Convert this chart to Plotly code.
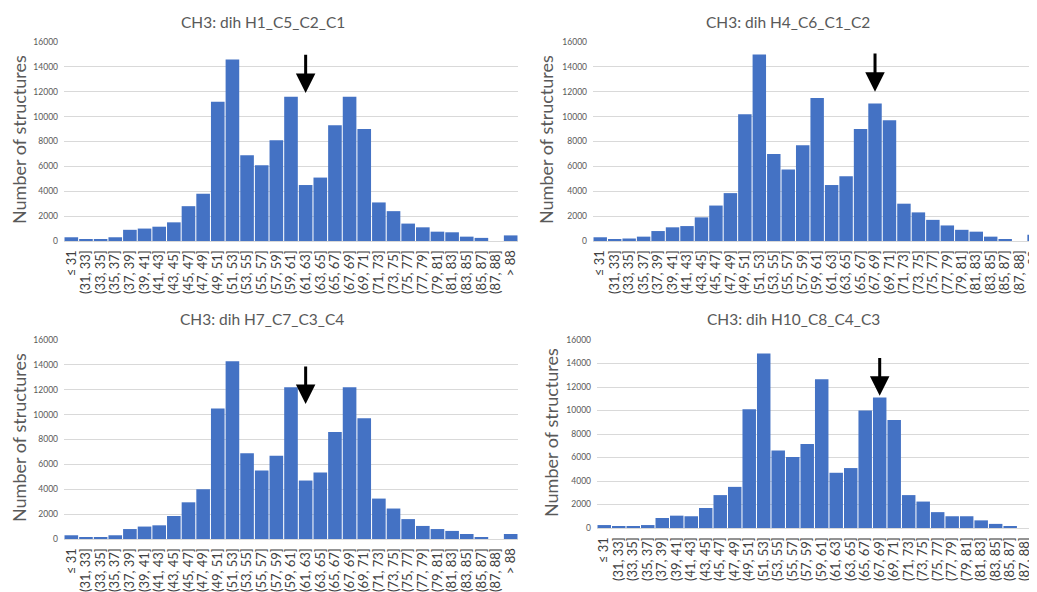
import plotly.graph_objects as go

categories = ["≤ 31", "(31, 33]", "(33, 35]", "(35, 37]", "(37, 39]", "(39, 41]", "(41, 43]",
              "(43, 45]", "(45, 47]", "(47, 49]", "(49, 51]", "(51, 53]", "(53, 55]", "(55, 57]",
              "(57, 59]", "(59, 61]", "(61, 63]", "(63, 65]", "(65, 67]", "(67, 69]", "(69, 71]",
              "(71, 73]", "(73, 75]", "(75, 77]", "(77, 79]", "(79, 81]", "(81, 83]", "(83, 85]",
              "(85, 87]", "(87, 88]", "> 88"]

titles = ["CH3: dih H1_C5_C2_C1", "CH3: dih H4_C6_C1_C2",
          "CH3: dih H7_C7_C3_C4", "CH3: dih H10_C8_C4_C3"]

h1_c5_c2_c1 = [300, 100, 100, 300, 900, 1000, 1150, 1500, 2800, 3800, 11200, 14600, 6900, 6100,
               8100, 11600, 4500, 5100, 9300, 11600, 9000, 3100, 2400, 1400, 1100, 750, 700, 350,
               250, 0, 450]
h4_c6_c1_c2 = [300, 150, 200, 350, 800, 1100, 1200, 1900, 2850, 3850, 10200, 15000, 7000, 5750,
               7700, 11500, 4500, 5200, 9000, 11050, 9700, 3000, 2300, 1700, 1250, 900, 750, 350,
               150, 0, 500]
h7_c7_c3_c4 = [300, 100, 150, 300, 800, 1000, 1100, 1850, 2950, 4000, 10500, 14300, 6900, 5500,
               6700, 12200, 4700, 5350, 8600, 12200, 9700, 3250, 2450, 1600, 1050, 800, 650, 400,
               150, 0, 400]
h10_c8_c4_c3 = [250, 100, 100, 250, 850, 1050, 1000, 1700, 2800, 3500, 10100, 14850, 6600, 6050,
                7150, 12650, 4700, 5100, 10000, 11100, 9200, 2800, 2250, 1350, 1000, 1000, 650, 350,
                150, 0, 350]

series = [h1_c5_c2_c1, h4_c6_c1_c2, h7_c7_c3_c4, h10_c8_c4_c3]
arrow_cat = ["(61, 63]", "(67, 69]", "(61, 63]", "(67, 69]"]
arrow_top = [15100, 15200, 14000, 14600]
arrow_tip = [11900, 12000, 10850, 11250]

# page has an 8px body margin; figure fills the rest of the 1037x592 window
OFF = 8
W, H = 1037 - OFF, 592 - OFF
BLUE = "#4472C4"
GRAY = "#595959"
FONT = "Lato"


def fx(px):
    return (px - OFF) / W


def fy(py):
    return 1 - (py - OFF) / H


# page-pixel layout of each panel: (left, right, top, bottom), x range end
panels = [
    (64, 518, 42, 241, 30.5),
    (593, 1037, 42, 241, 30.2),
    (64, 518, 340, 539, 30.5),
    (597, 1037, 340, 528, 29.85),
]
title_pos = [(263, 22), (788, 22), (262, 319), (793, 319)]
ytitle_pos = [(19, 140), (546, 140), (19, 438), (551, 433)]

fig = go.Figure()
annotations = []
for i, (vals, (l, r, t, b, xend)) in enumerate(zip(series, panels)):
    n = "" if i == 0 else str(i + 1)
    fig.add_trace(go.Bar(x=categories, y=vals, marker=dict(color=BLUE, line=dict(width=0)),
                         xaxis="x" + n, yaxis="y" + n, showlegend=False))
    fig.layout["xaxis" + n] = dict(
        domain=[fx(l), fx(r)], anchor="y" + n, type="category", range=[-0.5, xend],
        tickmode="array", tickvals=categories, ticktext=categories,
        tickangle=-90, tickfont=dict(family=FONT, size=13, color="#404040"),
        showgrid=False, showline=True, linecolor="#d9d9d9", linewidth=1, ticks="",
        ticklabelstandoff=3, automargin=False, fixedrange=True)
    fig.layout["yaxis" + n] = dict(
        domain=[fy(b), fy(t)], anchor="x" + n, range=[0, 16000], tickformat="d",
        tickvals=list(range(0, 16001, 2000)), tickfont=dict(family=FONT, size=8.5, color=GRAY),
        showgrid=True, gridcolor="#d9d9d9", gridwidth=1, zeroline=False, ticks="",
        ticklabelstandoff=5, automargin=False, fixedrange=True)
    tx, ty = title_pos[i]
    annotations.append(dict(text=titles[i], x=fx(tx), y=fy(ty), xref="paper", yref="paper",
                            showarrow=False, xanchor="center", yanchor="middle",
                            font=dict(family=FONT, size=15.5, color=GRAY)))
    yx, yy = ytitle_pos[i]
    annotations.append(dict(text="Number of structures", x=fx(yx), y=fy(yy), xref="paper",
                            yref="paper", showarrow=False, textangle=-90, xanchor="center",
                            yanchor="middle", font=dict(family=FONT, size=18, color=GRAY)))
    annotations.append(dict(x=arrow_cat[i], y=arrow_tip[i], ax=arrow_cat[i], ay=arrow_top[i],
                            xref="x" + n, yref="y" + n, axref="x" + n, ayref="y" + n,
                            text="", showarrow=True, arrowhead=2, arrowsize=1.3,
                            arrowwidth=3, arrowcolor="black"))

fig.update_layout(width=W, height=H, margin=dict(l=0, r=0, t=0, b=0),
                  paper_bgcolor="white", plot_bgcolor="white", bargap=0.07,
                  annotations=annotations)
fig.write_html("out.html")
